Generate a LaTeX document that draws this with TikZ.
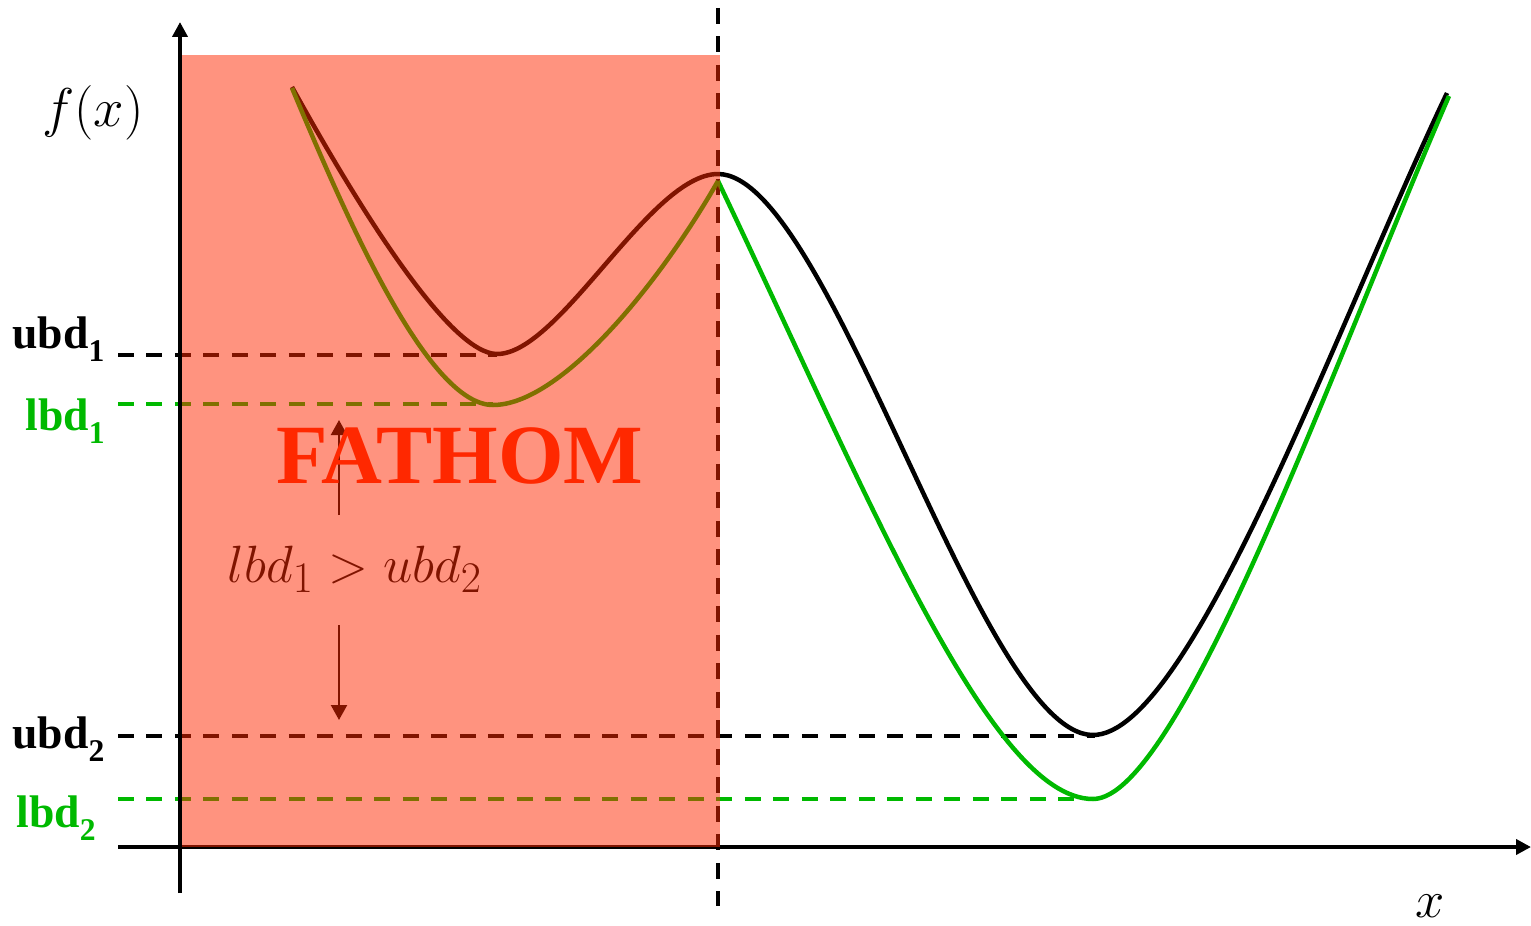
\documentclass[tikz,border=0pt]{standalone}
\usepackage{graphicx}
\usepackage{fontspec}
\newfontfamily\tnr{Liberation Serif}
\usetikzlibrary{arrows.meta}
\definecolor{lgreen}{RGB}{0,185,0}
\definecolor{fred}{RGB}{255,40,0}
\newcommand{\bdlab}[2]{{\tnr\bfseries\fontsize{26}{26}\selectfont #1\raisebox{-0.3em}{\fontsize{18}{18}\selectfont #2}}}
\newcommand{\mathbig}[2]{\scalebox{#1}{\Huge #2}}
\begin{document}
\begin{tikzpicture}[x=0.02cm,y=-0.02cm,
  axis/.style={line width=0.075cm,-{Triangle[length=0.3cm,width=0.3cm]}},
  guide/.style={line width=0.065cm,dash pattern=on 0.32cm off 0.25cm},
  curve/.style={line width=0.09cm,line join=round},
  lab/.style={inner sep=0pt,anchor=base west},
  condarrow/.style={line width=0.045cm,-{Triangle[length=0.3cm,width=0.32cm]}}]
\useasboundingbox (0,0) rectangle (1531,926);

% x axis (under the shaded box)
\coordinate (xa) at (118,847);
\coordinate (xb) at (1531,847);
\draw[axis] (xa) -- (xb);

% bound guides
\coordinate (u1a) at (118,355); \coordinate (u1b) at (497,355);
\coordinate (l1a) at (118,404); \coordinate (l1b) at (493,404);
\coordinate (u2a) at (118,736); \coordinate (u2b) at (1095,736);
\coordinate (l2a) at (118,799); \coordinate (l2b) at (1093,799);
\draw[guide] (u1a) -- (u1b);
\draw[guide,lgreen] (l1a) -- (l1b);
\draw[guide] (u2a) -- (u2b);
\draw[guide,lgreen] (l2a) -- (l2b);

% vertical split line
\coordinate (va) at (718,8); \coordinate (vb) at (718,906);
\draw[guide] (va) -- (vb);

% function
\coordinate (b0) at (292,87);
\coordinate (b1) at (497,354);
\coordinate (b2) at (718,174);
\coordinate (b3) at (1093,735);
\coordinate (b4) at (1447,93);
\draw[curve] (b0) .. controls (360,210) and (450,354) .. (b1)
  .. controls (560,354) and (650,174) .. (b2)
  .. controls (830,174) and (980,735) .. (b3)
  .. controls (1190,735) and (1337,324) .. (b4);

% relaxations
\coordinate (g0) at (292,88);
\coordinate (g1) at (493,405);
\coordinate (g2) at (718,181);
\coordinate (g3) at (1093,799);
\coordinate (g4) at (1449,96);
\draw[curve,lgreen] (g0) .. controls (352,232) and (430,405) .. (g1)
  .. controls (560,405) and (658,286) .. (g2);
\draw[curve,lgreen] (g2) .. controls (868,496) and (990,799) .. (g3)
  .. controls (1180,799) and (1339,349) .. (g4);

% condition
\node[anchor=base,inner sep=0pt] (cond) at (355,582) {\mathbig{1.2}{$lbd_1 > ubd_2$}};
\coordinate (upS) at (339,515); \coordinate (upE) at (339,420);
\coordinate (dnS) at (339,625); \coordinate (dnE) at (339,720);
\draw[condarrow] (upS) -- (upE);
\draw[condarrow] (dnS) -- (dnE);

% fathomed region
\fill[fred,opacity=0.5] (181,55) rectangle (720,847);
\node[anchor=base,inner sep=0pt,text=fred] (fathom) at (460,483) {\tnr\bfseries\fontsize{48}{48}\selectfont FATHOM};

% y axis
\coordinate (ya) at (180,893);
\coordinate (yb) at (180,22);
\draw[axis] (ya) -- (yb);

% labels
\node[inner sep=0pt] (fx) at (93,113) {\mathbig{1.25}{$f(x)$}};
\node[inner sep=0pt] (xl) at (1430,906) {\mathbig{1.2}{$x$}};
\node[lab] (ubd1) at (12,348) {\bdlab{ubd}{1}};
\node[lab,text=lgreen] (lbd1) at (25,430) {\bdlab{lbd}{1}};
\node[lab] (ubd2) at (12,748) {\bdlab{ubd}{2}};
\node[lab,text=lgreen] (lbd2) at (16,827) {\bdlab{lbd}{2}};
\end{tikzpicture}
\end{document}
